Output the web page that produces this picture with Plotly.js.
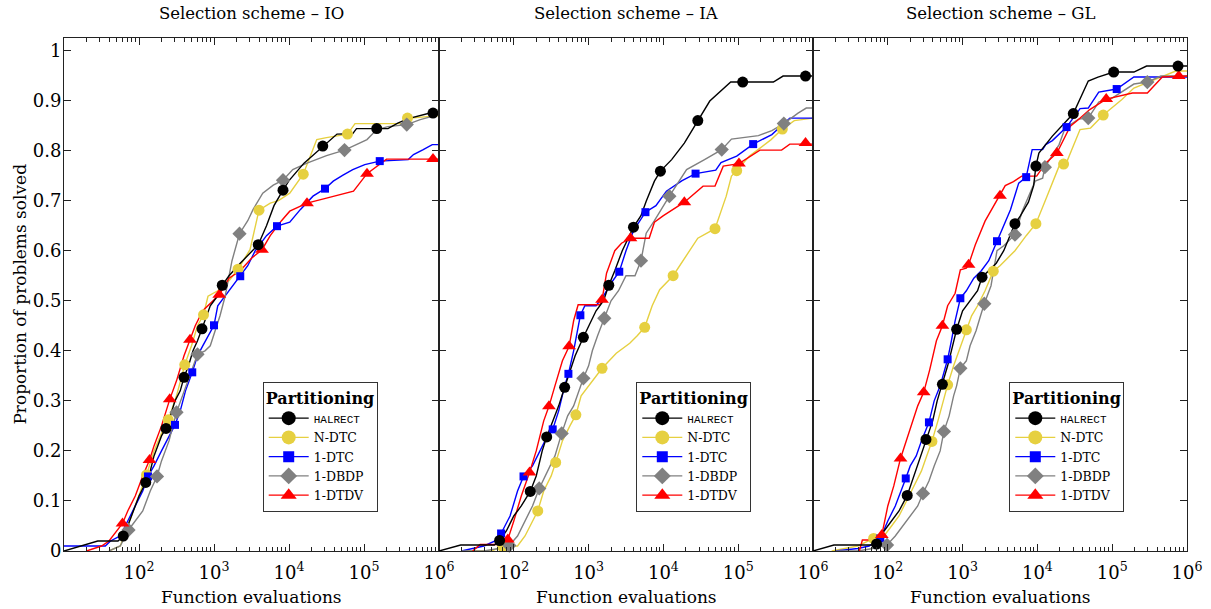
<!DOCTYPE html>
<html><head><meta charset="utf-8">
<script src="https://cdn.plot.ly/plotly-3.0.1.min.js"></script>
<style>html,body{margin:0;padding:0;background:#fff}</style>
</head><body><div id="chart" style="width:1211px;height:609px"></div>
<script>
// x values are log10(function evaluations); y = proportion solved
const SERIES = ['HALRECT','N-DTC','1-DTC','1-DBDP','1-DTDV'];
const PANELS = ['IO','IA','GL'];
const TICK_VALS = [1e2,1e3,1e4,1e5,1e6];
const TICK_TEXT = ['10<sup>2</sup>','10<sup>3</sup>','10<sup>4</sup>','10<sup>5</sup>','10<sup>6</sup>'];

// ---------- IO ----------
const IO_HALRECT_LX = [1.0,1.45,1.72,1.79,1.85,1.9,1.95,2.0,2.05,2.09,2.15,2.2,2.25,2.3,2.36,2.42,2.48,2.55,2.6,2.66,2.72,2.78,2.84,2.9,2.95,3.0,3.05,3.11,3.2,3.35,3.59,3.7,3.8,3.92,4.0,4.2,4.45,4.64,4.85,4.9,5.32,5.45,5.59,5.88,6.0];
const IO_HALRECT_Y  = [0,0.02,0.02,0.03,0.05,0.07,0.09,0.11,0.125,0.137,0.16,0.19,0.21,0.23,0.245,0.27,0.3,0.32,0.347,0.37,0.4,0.42,0.444,0.47,0.49,0.5,0.51,0.531,0.55,0.575,0.612,0.65,0.69,0.721,0.74,0.775,0.809,0.833,0.834,0.844,0.844,0.855,0.864,0.875,0.875];
const IO_HALRECT_MLX = [1.79,2.09,2.36,2.60,2.84,3.11,3.59,3.92,4.45,5.17,5.92];
const IO_HALRECT_MY  = [0.03,0.137,0.245,0.347,0.444,0.531,0.612,0.721,0.809,0.844,0.875];

const IO_NDTC_LX = [1.6,1.75,1.8,1.9,2.0,2.1,2.2,2.3,2.39,2.5,2.61,2.7,2.78,2.86,2.92,3.05,3.2,3.32,3.48,3.6,3.75,3.86,4.01,4.19,4.37,4.5,4.78,4.88,5.58,5.62,6.0];
const IO_NDTC_Y  = [0,0.01,0.03,0.07,0.11,0.152,0.2,0.235,0.262,0.31,0.372,0.41,0.45,0.472,0.509,0.52,0.54,0.563,0.602,0.681,0.695,0.70,0.715,0.753,0.822,0.826,0.833,0.854,0.854,0.865,0.87];
const IO_NDTC_MLX = [2.10,2.39,2.61,2.86,3.32,3.60,4.19,4.78,5.58];
const IO_NDTC_MY  = [0.152,0.262,0.372,0.472,0.563,0.681,0.753,0.833,0.865];

const IO_DTC_LX = [1.0,1.55,1.62,1.75,1.85,1.95,2.05,2.12,2.2,2.3,2.4,2.48,2.55,2.62,2.71,2.78,2.85,2.92,3.0,3.05,3.15,3.25,3.35,3.45,3.55,3.7,3.84,4.01,4.15,4.32,4.48,4.59,4.72,4.85,5.01,5.21,5.59,5.66,5.79,5.91,6.0];
const IO_DTC_Y  = [0.01,0.01,0.02,0.03,0.06,0.09,0.12,0.149,0.17,0.2,0.23,0.252,0.28,0.32,0.357,0.39,0.41,0.43,0.451,0.49,0.51,0.53,0.549,0.57,0.6,0.63,0.649,0.657,0.682,0.709,0.724,0.739,0.751,0.762,0.772,0.779,0.782,0.792,0.802,0.812,0.812];
const IO_DTC_MLX = [2.12,2.48,2.71,3.0,3.35,3.84,4.48,5.21];
const IO_DTC_MY  = [0.149,0.252,0.357,0.451,0.549,0.649,0.724,0.779];

const IO_DBDP_LX = [1.6,1.75,1.86,1.95,2.05,2.15,2.24,2.3,2.4,2.5,2.6,2.7,2.78,2.88,2.95,3.08,3.15,3.24,3.34,3.45,3.52,3.65,3.79,3.92,4.05,4.24,4.5,4.74,4.9,5.04,5.17,5.32,5.57,5.75,5.92,6.0];
const IO_DBDP_Y  = [0,0.01,0.042,0.06,0.08,0.12,0.149,0.18,0.22,0.277,0.32,0.36,0.393,0.40,0.41,0.47,0.51,0.58,0.634,0.66,0.682,0.715,0.731,0.741,0.762,0.775,0.79,0.801,0.812,0.822,0.842,0.848,0.852,0.862,0.869,0.875];
const IO_DBDP_MLX = [1.86,2.24,2.50,2.78,3.34,3.92,4.74,5.57];
const IO_DBDP_MY  = [0.042,0.149,0.277,0.393,0.634,0.741,0.801,0.852];

const IO_DTDV_LX = [1.3,1.5,1.6,1.7,1.78,1.85,1.95,2.05,2.14,2.2,2.3,2.41,2.5,2.6,2.68,2.75,2.85,2.95,3.07,3.2,3.35,3.5,3.64,3.75,3.9,4.01,4.24,4.5,4.86,5.04,5.3,6.0];
const IO_DTDV_Y  = [0,0.01,0.02,0.04,0.055,0.08,0.11,0.15,0.182,0.21,0.25,0.303,0.34,0.39,0.422,0.45,0.48,0.495,0.512,0.545,0.56,0.585,0.602,0.63,0.66,0.679,0.695,0.705,0.719,0.754,0.783,0.783];
const IO_DTDV_MLX = [1.78,2.14,2.41,2.68,3.07,3.64,4.24,5.04,5.92];
const IO_DTDV_MY  = [0.055,0.182,0.303,0.422,0.512,0.602,0.695,0.754,0.783];

// ---------- IA ----------
const IA_HALRECT_LX = [1.0,1.29,1.74,1.81,1.9,2.0,2.1,2.22,2.3,2.38,2.44,2.52,2.6,2.68,2.75,2.82,2.93,3.0,3.1,3.2,3.27,3.35,3.45,3.6,3.7,3.77,3.88,3.96,4.11,4.28,4.46,4.62,4.9,5.47,5.6,6.0];
const IA_HALRECT_Y  = [0,0.012,0.012,0.021,0.04,0.07,0.09,0.119,0.15,0.2,0.228,0.26,0.29,0.327,0.36,0.39,0.427,0.45,0.48,0.5,0.531,0.56,0.6,0.647,0.67,0.699,0.739,0.759,0.782,0.815,0.86,0.899,0.937,0.937,0.949,0.949];
const IA_HALRECT_MLX = [1.81,2.22,2.44,2.68,2.93,3.27,3.60,3.96,4.46,5.06,5.90];
const IA_HALRECT_MY  = [0.021,0.119,0.228,0.327,0.427,0.531,0.647,0.759,0.86,0.937,0.949];

const IA_NDTC_LX = [1.3,1.7,1.85,2.05,2.15,2.25,2.32,2.4,2.5,2.56,2.65,2.75,2.83,2.9,3.0,3.1,3.18,3.37,3.55,3.65,3.75,3.85,3.95,4.13,4.3,4.46,4.69,4.84,4.91,4.98,5.15,5.44,5.59,5.75,6.0];
const IA_NDTC_Y  = [0,0,0.009,0.01,0.03,0.06,0.08,0.12,0.15,0.177,0.22,0.25,0.272,0.31,0.33,0.35,0.365,0.395,0.415,0.43,0.447,0.49,0.522,0.55,0.59,0.625,0.644,0.709,0.749,0.76,0.789,0.822,0.843,0.86,0.865];
const IA_NDTC_MLX = [1.85,2.32,2.56,2.83,3.18,3.75,4.13,4.69,4.98,5.59];
const IA_NDTC_MY  = [0.009,0.08,0.177,0.272,0.365,0.447,0.55,0.644,0.76,0.843];

const IA_DTC_LX = [1.3,1.6,1.75,1.83,1.95,2.05,2.13,2.25,2.35,2.45,2.52,2.6,2.68,2.73,2.8,2.85,2.89,2.95,3.1,3.2,3.3,3.41,3.5,3.6,3.76,3.9,4.04,4.25,4.43,4.7,4.77,4.98,5.2,5.45,5.69,6.0];
const IA_DTC_Y  = [0,0.01,0.02,0.035,0.07,0.12,0.149,0.17,0.2,0.23,0.243,0.28,0.33,0.354,0.4,0.44,0.471,0.49,0.49,0.51,0.535,0.558,0.6,0.64,0.677,0.69,0.719,0.74,0.754,0.761,0.776,0.789,0.813,0.832,0.865,0.865];
const IA_DTC_MLX = [1.83,2.13,2.52,2.73,2.89,3.41,3.76,4.43,5.20];
const IA_DTC_MY  = [0.035,0.149,0.243,0.354,0.471,0.558,0.677,0.754,0.813];

const IA_DBDP_LX = [1.3,1.6,1.8,1.94,2.05,2.15,2.25,2.34,2.45,2.55,2.64,2.72,2.8,2.87,2.93,3.0,3.05,3.12,3.21,3.3,3.4,3.5,3.62,3.7,3.77,3.88,4.08,4.31,4.55,4.78,4.91,5.27,5.45,5.61,5.8,5.91,6.0];
const IA_DBDP_Y  = [0,0,0.005,0.011,0.03,0.06,0.09,0.125,0.16,0.19,0.235,0.27,0.29,0.32,0.345,0.37,0.4,0.43,0.465,0.5,0.52,0.55,0.55,0.58,0.635,0.66,0.709,0.762,0.782,0.802,0.823,0.83,0.84,0.854,0.875,0.885,0.885];
const IA_DBDP_MLX = [1.94,2.34,2.64,2.93,3.21,3.70,4.08,4.78,5.61];
const IA_DBDP_MY  = [0.011,0.125,0.235,0.345,0.465,0.58,0.709,0.802,0.854];

const IA_DTDV_LX = [1.45,1.55,1.78,1.92,2.0,2.1,2.21,2.3,2.4,2.47,2.55,2.65,2.74,2.8,2.86,3.15,3.18,3.24,3.35,3.44,3.56,3.81,3.88,4.0,4.28,4.53,4.69,4.8,5.01,5.29,5.58,5.69,6.0];
const IA_DTDV_Y  = [0,0.013,0.013,0.023,0.06,0.11,0.157,0.2,0.26,0.289,0.33,0.38,0.409,0.46,0.492,0.492,0.502,0.555,0.6,0.615,0.625,0.625,0.657,0.67,0.697,0.729,0.729,0.769,0.774,0.801,0.801,0.813,0.813];
const IA_DTDV_MLX = [1.92,2.21,2.47,2.74,3.18,3.56,4.28,5.01,5.90];
const IA_DTDV_MY  = [0.023,0.157,0.289,0.409,0.502,0.625,0.697,0.774,0.815];

// ---------- GL ----------
const GL_HALRECT_LX = [1.0,1.28,1.83,1.85,1.95,2.05,2.15,2.26,2.35,2.42,2.51,2.6,2.66,2.73,2.8,2.85,2.92,3.0,3.1,3.2,3.26,3.35,3.45,3.55,3.62,3.7,3.77,3.88,3.95,3.98,4.02,4.2,4.48,4.68,4.81,5.02,5.29,5.46,6.0];
const GL_HALRECT_Y  = [0,0.012,0.012,0.014,0.04,0.06,0.08,0.111,0.15,0.18,0.223,0.26,0.3,0.333,0.37,0.4,0.443,0.48,0.5,0.52,0.547,0.56,0.575,0.6,0.625,0.654,0.669,0.697,0.73,0.769,0.795,0.829,0.874,0.939,0.947,0.957,0.957,0.969,0.969];
const GL_HALRECT_MLX = [1.85,2.26,2.51,2.73,2.92,3.26,3.70,3.98,4.48,5.02,5.88];
const GL_HALRECT_MY  = [0.014,0.111,0.223,0.333,0.443,0.547,0.654,0.769,0.874,0.957,0.969];

const GL_NDTC_LX = [1.25,1.6,1.81,1.95,2.05,2.15,2.25,2.35,2.45,2.52,2.59,2.67,2.74,2.8,2.88,2.95,3.05,3.12,3.2,3.3,3.41,3.5,3.6,3.7,3.85,3.98,4.11,4.29,4.35,4.4,4.57,4.71,4.88,5.13,5.29,5.67,5.85,6.0];
const GL_NDTC_Y  = [0,0.01,0.025,0.03,0.05,0.07,0.1,0.13,0.16,0.19,0.219,0.26,0.3,0.332,0.37,0.4,0.442,0.47,0.49,0.52,0.559,0.57,0.585,0.6,0.63,0.654,0.702,0.769,0.773,0.78,0.842,0.845,0.871,0.902,0.925,0.949,0.959,0.959];
const GL_NDTC_MLX = [1.81,2.59,2.80,3.05,3.41,3.98,4.35,4.88];
const GL_NDTC_MY  = [0.025,0.219,0.332,0.442,0.559,0.654,0.773,0.871];

const GL_DTC_LX = [1.3,1.6,1.75,1.9,2.0,2.1,2.24,2.3,2.38,2.45,2.55,2.62,2.7,2.8,2.85,2.9,2.97,3.05,3.15,3.25,3.35,3.46,3.64,3.75,3.85,3.93,4.07,4.11,4.2,4.39,4.57,4.68,4.82,5.06,5.29,6.0];
const GL_DTC_Y  = [0,0.005,0.01,0.025,0.06,0.09,0.145,0.17,0.19,0.22,0.257,0.3,0.33,0.383,0.42,0.46,0.505,0.52,0.545,0.56,0.58,0.619,0.682,0.735,0.747,0.802,0.802,0.812,0.82,0.847,0.884,0.885,0.917,0.923,0.947,0.947];
const GL_DTC_MLX = [1.90,2.24,2.55,2.80,2.97,3.46,3.85,4.39,5.06];
const GL_DTC_MY  = [0.025,0.145,0.257,0.383,0.505,0.619,0.747,0.847,0.923];

const GL_DBDP_LX = [1.3,1.6,1.8,1.99,2.1,2.2,2.3,2.4,2.47,2.55,2.62,2.7,2.75,2.82,2.88,2.92,2.97,3.05,3.1,3.18,3.24,3.29,3.38,3.46,3.55,3.7,3.8,3.97,4.07,4.1,4.29,4.37,4.55,4.68,4.82,5.0,5.29,5.47,5.65,6.0];
const GL_DBDP_Y  = [0,0,0.005,0.012,0.03,0.05,0.07,0.09,0.115,0.14,0.17,0.2,0.239,0.27,0.31,0.33,0.365,0.38,0.41,0.44,0.47,0.494,0.53,0.6,0.61,0.632,0.68,0.739,0.745,0.767,0.812,0.845,0.863,0.865,0.897,0.905,0.933,0.937,0.949,0.949];
const GL_DBDP_MLX = [1.99,2.47,2.75,2.97,3.29,3.70,4.10,4.68,5.47];
const GL_DBDP_MY  = [0.012,0.115,0.239,0.365,0.494,0.632,0.767,0.865,0.937];

const GL_DTDV_LX = [1.62,1.66,1.88,1.92,2.0,2.08,2.17,2.3,2.4,2.48,2.56,2.65,2.73,2.8,2.9,2.97,3.05,3.08,3.17,3.3,3.5,3.57,3.68,3.79,3.99,4.11,4.26,4.44,4.55,4.7,4.92,5.27,5.47,5.67,6.0];
const GL_DTDV_Y  = [0,0.022,0.022,0.032,0.09,0.13,0.185,0.242,0.29,0.317,0.362,0.42,0.45,0.49,0.515,0.562,0.565,0.572,0.612,0.659,0.71,0.73,0.738,0.749,0.749,0.775,0.795,0.849,0.862,0.882,0.903,0.915,0.915,0.947,0.949];
const GL_DTDV_MLX = [1.92,2.17,2.48,2.73,3.08,3.50,4.26,4.92,5.89];
const GL_DTDV_MY  = [0.032,0.185,0.317,0.45,0.572,0.71,0.795,0.903,0.949];

const DATA = {
  IO: {
    'HALRECT': [IO_HALRECT_LX, IO_HALRECT_Y, IO_HALRECT_MLX, IO_HALRECT_MY],
    'N-DTC':   [IO_NDTC_LX, IO_NDTC_Y, IO_NDTC_MLX, IO_NDTC_MY],
    '1-DTC':   [IO_DTC_LX, IO_DTC_Y, IO_DTC_MLX, IO_DTC_MY],
    '1-DBDP':  [IO_DBDP_LX, IO_DBDP_Y, IO_DBDP_MLX, IO_DBDP_MY],
    '1-DTDV':  [IO_DTDV_LX, IO_DTDV_Y, IO_DTDV_MLX, IO_DTDV_MY]
  },
  IA: {
    'HALRECT': [IA_HALRECT_LX, IA_HALRECT_Y, IA_HALRECT_MLX, IA_HALRECT_MY],
    'N-DTC':   [IA_NDTC_LX, IA_NDTC_Y, IA_NDTC_MLX, IA_NDTC_MY],
    '1-DTC':   [IA_DTC_LX, IA_DTC_Y, IA_DTC_MLX, IA_DTC_MY],
    '1-DBDP':  [IA_DBDP_LX, IA_DBDP_Y, IA_DBDP_MLX, IA_DBDP_MY],
    '1-DTDV':  [IA_DTDV_LX, IA_DTDV_Y, IA_DTDV_MLX, IA_DTDV_MY]
  },
  GL: {
    'HALRECT': [GL_HALRECT_LX, GL_HALRECT_Y, GL_HALRECT_MLX, GL_HALRECT_MY],
    'N-DTC':   [GL_NDTC_LX, GL_NDTC_Y, GL_NDTC_MLX, GL_NDTC_MY],
    '1-DTC':   [GL_DTC_LX, GL_DTC_Y, GL_DTC_MLX, GL_DTC_MY],
    '1-DBDP':  [GL_DBDP_LX, GL_DBDP_Y, GL_DBDP_MLX, GL_DBDP_MY],
    '1-DTDV':  [GL_DTDV_LX, GL_DTDV_Y, GL_DTDV_MLX, GL_DTDV_MY]
  }
};

const STYLE = {
  'HALRECT': {color:'#000000', symbol:'circle', size:11, lsize:14},
  'N-DTC':   {color:'#e6d040', symbol:'circle', size:11, lsize:14},
  '1-DTC':   {color:'#0000ff', symbol:'square', size:8, lsize:11},
  '1-DBDP':  {color:'#808080', symbol:'diamond', size:11, lsize:13},
  '1-DTDV':  {color:'#ff0000', symbol:'triangle-up', size:12, lsize:14}
};
const LABEL = {
  'HALRECT': '<span style="font-family:Liberation Mono;font-size:11px">HALRECT</span>',
  'N-DTC': 'N-DTC', '1-DTC': '1-DTC', '1-DBDP': '1-DBDP', '1-DTDV': '1-DTDV'
};
const DRAW_ORDER = ['N-DTC','1-DTC','1-DBDP','1-DTDV','HALRECT'];
const FONT = 'DejaVu Serif';
const toX = a => a.map(v => Math.pow(10, v));

const traces = [];
PANELS.forEach((p, i) => {
  const xa = i === 0 ? 'x' : 'x' + (i + 1);
  const ya = i === 0 ? 'y' : 'y' + (i + 1);
  const lg = i === 0 ? 'legend' : 'legend' + (i + 1);
  DRAW_ORDER.forEach(s => {
    const d = DATA[p][s], st = STYLE[s];
    traces.push({type:'scatter', mode:'lines', x: toX(d[0]), y: d[1], xaxis: xa, yaxis: ya,
      line:{color: st.color, width:1.4}, showlegend:false, hoverinfo:'skip'});
  });
  DRAW_ORDER.forEach(s => {
    const d = DATA[p][s], st = STYLE[s];
    traces.push({type:'scatter', mode:'markers', x: toX(d[2]), y: d[3], xaxis: xa, yaxis: ya,
      marker:{color: st.color, symbol: st.symbol, size: st.size, line:{width:0}}, showlegend:false, hoverinfo:'skip', cliponaxis:false});
  });
  SERIES.forEach((s, k) => {
    const st = STYLE[s];
    traces.push({type:'scatter', mode:'lines+markers', x:[null], y:[null], xaxis: xa, yaxis: ya,
      name: LABEL[s], legend: lg, legendrank: k + 1,
      line:{color: st.color, width:1.4}, marker:{color: st.color, symbol: st.symbol, size: st.lsize, line:{width:0}}});
  });
});

const minorVals = [];
for (let e = 1; e < 6; e++) for (let m = 2; m <= 9; m++) minorVals.push(m * Math.pow(10, e));

const AX = '#222';
function xAxis(dom, anchor) {
  return {type:'log', range:[1,6], domain: dom, anchor: anchor,
    tickmode:'array', tickvals: TICK_VALS, ticktext: TICK_TEXT,
    ticks:'inside', ticklen:7, tickwidth:1, tickcolor: AX,
    showline:true, linecolor: AX, linewidth:1, mirror:'ticks',
    showgrid:false, zeroline:false, ticklabelstandoff:5,
    tickfont:{family: FONT, size:18, color:'#000'},
    minor:{tickmode:'array', tickvals: minorVals, ticks:'inside', ticklen:4, tickwidth:1, tickcolor: AX, showgrid:false}};
}
function yAxis(anchor, labels) {
  return {range:[0,1.025], anchor: anchor, domain:[0,1], tick0:0, dtick:0.1,
    ticks:'inside', ticklen:7, tickwidth:1, tickcolor: AX,
    showline:true, linecolor: AX, linewidth:1, mirror:'ticks',
    showgrid:false, zeroline:false, showticklabels: labels, ticklabelstandoff:-2,
    tickfont:{family: FONT, size:18, color:'#000'}};
}
const D1 = [0, 375/1123], D2 = [375/1123, 749/1123], D3 = [749/1123, 1];
function legendAt(x) {
  return {x: x, y: 0.33, xanchor:'left', yanchor:'top', bgcolor:'#fff',
    bordercolor:'#333', borderwidth:1, font:{family: FONT, size:12.5, color:'#000'},
    title:{text:'<b>Partitioning</b>', font:{family: FONT, size:16, color:'#000'}},
    itemwidth:40, traceorder:'normal', tracegroupgap:0};
}
const titleAnn = (txt, cx) => ({text: txt, x: cx, y: 1.047, xref:'paper', yref:'paper', showarrow:false,
  xanchor:'center', yanchor:'middle', font:{family: FONT, size:16.5, color:'#000'}});
const xtAnn = cx => ({text:'Function evaluations', x: cx, y: -0.09, xref:'paper', yref:'paper', showarrow:false,
  xanchor:'center', yanchor:'middle', font:{family: FONT, size:17, color:'#000'}});

const layout = {
  width:1211, height:609, margin:{l:64, r:24, t:38, b:58},
  paper_bgcolor:'#fff', plot_bgcolor:'#fff', showlegend:true,
  xaxis: xAxis(D1, 'y'), xaxis2: xAxis(D2, 'y2'), xaxis3: xAxis(D3, 'y3'),
  yaxis: yAxis('x', true), yaxis2: yAxis('x2', false), yaxis3: yAxis('x3', false),
  legend: legendAt((262.7-64)/1123), legend2: legendAt((636.3-64)/1123), legend3: legendAt((1009.3-64)/1123),
  annotations: [
    titleAnn('Selection scheme – IO', (D1[0]+D1[1])/2),
    titleAnn('Selection scheme – IA', (D2[0]+D2[1])/2),
    titleAnn('Selection scheme – GL', (D3[0]+D3[1])/2),
    xtAnn((D1[0]+D1[1])/2), xtAnn((D2[0]+D2[1])/2), xtAnn((D3[0]+D3[1])/2),
    {text:'Proportion of problems solved', x: -0.04, y: 0.5, xref:'paper', yref:'paper', showarrow:false,
      textangle:-90, xanchor:'center', yanchor:'middle', font:{family: FONT, size:17, color:'#000'}}
  ]
};
Plotly.newPlot('chart', traces, layout, {displayModeBar:false, staticPlot:true});
</script></body></html>
